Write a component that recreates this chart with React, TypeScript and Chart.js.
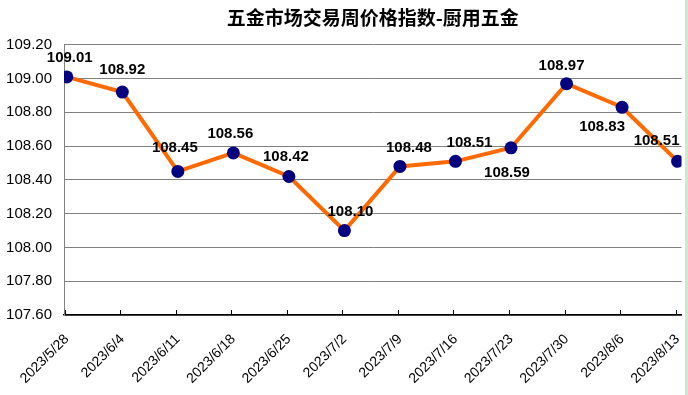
import React, { useEffect, useRef } from "react";
import { Chart, registerables } from "chart.js";

Chart.register(...registerables);

const TITLE = "五金市场交易周价格指数-厨用五金";
const categories = [
  "2023/5/28", "2023/6/4", "2023/6/11", "2023/6/18", "2023/6/25", "2023/7/2",
  "2023/7/9", "2023/7/16", "2023/7/23", "2023/7/30", "2023/8/6", "2023/8/13",
];
const values = [109.01, 108.92, 108.45, 108.56, 108.42, 108.1, 108.48, 108.51, 108.59, 108.97, 108.83, 108.51];
const yTicks = [107.6, 107.8, 108.0, 108.2, 108.4, 108.6, 108.8, 109.0, 109.2];
// label placement relative to each point (px)
const labelOffsets: [number, number][] = [
  [3, -19], [0, -22], [-3, -24], [-3, -19], [-3, -20], [6, -19],
  [9, -19], [14, -18], [-4, 25], [-5, -18], [-20, 20], [-21, -20],
];

const overlayPlugin = {
  id: "overlay",
  afterDatasetsDraw(chart: any) {
    const { ctx, chartArea, scales } = chart;
    const xs = scales.x;
    ctx.save();
    ctx.strokeStyle = "#000";
    ctx.lineWidth = 1;
    categories.forEach((_, i) => {
      const px = Math.round(xs.getPixelForValue(i) - 2) + 0.5;
      ctx.beginPath();
      ctx.moveTo(px, chartArea.bottom);
      ctx.lineTo(px, chartArea.bottom - 5);
      ctx.stroke();
    });
    const meta = chart.getDatasetMeta(0);
    ctx.font = "bold 15px 'Liberation Sans', Arial, sans-serif";
    ctx.fillStyle = "#000";
    ctx.textAlign = "center";
    ctx.textBaseline = "middle";
    meta.data.forEach((pt: any, i: number) => {
      const [dx, dy] = labelOffsets[i];
      ctx.fillText(values[i].toFixed(2), pt.x + dx, pt.y + dy);
    });
    ctx.restore();
  },
};

export default function App() {
  const ref = useRef<HTMLCanvasElement | null>(null);
  useEffect(() => {
    document.body.style.margin = "0";
    const chart = new Chart(ref.current as HTMLCanvasElement, {
      type: "line",
      data: {
        datasets: [
          {
            data: values.map((v, i) => ({ x: i, y: v })),
            borderColor: "#ff6a00",
            borderWidth: 4,
            pointBackgroundColor: "#000080",
            pointBorderColor: "#000080",
            pointRadius: 6.5,
            pointBorderWidth: 0,
            tension: 0,
          },
        ],
      },
      options: {
        animation: false,
        responsive: false,
        devicePixelRatio: 1,
        layout: { padding: { left: 4, right: 5, bottom: 0, top: 0 } },
        plugins: {
          legend: { display: false },
          tooltip: { enabled: false },
          title: {
            display: true,
            fullSize: false,
            text: TITLE,
            color: "#000",
            font: { family: "'Noto Sans CJK SC'", size: 19, weight: "bold" },
            padding: { top: 6, bottom: 16 },
          },
        },
        scales: {
          x: {
            type: "linear",
            min: -0.05,
            max: 11.07,
            afterBuildTicks: (s: any) => {
              s.ticks = categories.map((_, i) => ({ value: i }));
            },
            afterFit: (s: any) => {
              s.paddingLeft = 0;
              s.paddingRight = 0;
              s.height = 80;
            },
            grid: { display: false, drawTicks: false },
            border: { display: true, color: "#000", width: 1.5 },
            ticks: {
              minRotation: 45,
              maxRotation: 45,
              padding: 16,
              color: "#000",
              font: { family: "'Liberation Sans', Arial, sans-serif", size: 14 },
              callback: (v: any) => categories[v] ?? "",
            },
          },
          y: {
            min: 107.6,
            max: 109.2,
            afterBuildTicks: (s: any) => {
              s.ticks = yTicks.map((v) => ({ value: v }));
            },
            afterFit: (s: any) => {
              s.width = 60;
            },
            grid: { color: "#808080", lineWidth: 1, drawTicks: false },
            border: { display: true, color: "#808080", width: 1 },
            ticks: {
              padding: 12,
              color: "#000",
              font: { family: "'Liberation Sans', Arial, sans-serif", size: 15 },
              callback: (v: any) => Number(v).toFixed(2),
            },
          },
        },
      },
      plugins: [overlayPlugin],
    } as any);
    return () => chart.destroy();
  }, []);
  return (
    <div style={{ position: "relative", width: 688, height: 395, background: "#fff" }}>
      <canvas ref={ref} width={688} height={395} style={{ display: "block" }} />
      <div style={{ position: "absolute", left: 685, top: 0, width: 3, height: 395, background: "#cfe8cf" }} />
    </div>
  );
}
